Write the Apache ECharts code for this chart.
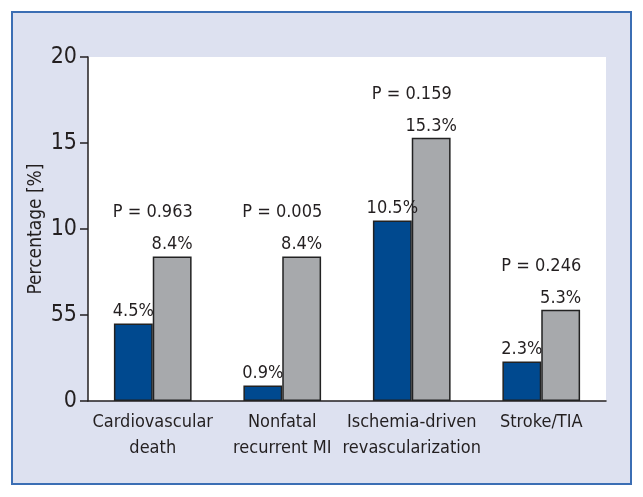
<!DOCTYPE html>
<html>
<head>
<meta charset="utf-8">
<script src="https://cdn.jsdelivr.net/npm/echarts@6/dist/echarts.min.js"></script>
<style>
html,body{margin:0;padding:0;background:#fff;}
#c{width:643px;height:497px;}
</style>
</head>
<body>
<div id="c"></div>
<script>
var categories = ['Cardiovascular\ndeath', 'Nonfatal\nrecurrent MI', 'Ischemia-driven\nrevascularization', 'Stroke/TIA'];
var seriesA = [4.5, 0.9, 10.5, 2.3];
var seriesB = [8.4, 8.4, 15.3, 5.3];
var pLabels = ['P = 0.963', 'P = 0.005', 'P = 0.159', 'P = 0.246'];
var yTickLabels = {0: '0', 5: '55', 10: '10', 15: '15', 20: '20'};

var FONT = "'Liberation Sans Narrow', 'DejaVu Sans Condensed', 'Roboto Condensed', sans-serif";
var TXT = '#231f20';

var chart = echarts.init(document.getElementById('c'));
var pData = categories.map(function (c, i) { return [i, Math.max(seriesA[i], seriesB[i])]; });

chart.setOption({
  animation: false,
  backgroundColor: '#ffffff',
  graphic: [{
    type: 'rect', z: -10, silent: true,
    shape: { x: 12, y: 12, width: 619, height: 472 },
    style: { fill: '#dde1f0', stroke: '#3b6eb4', lineWidth: 2 }
  }],
  grid: { left: 88, right: 37, top: 57, bottom: 96, show: true, backgroundColor: '#ffffff', borderWidth: 0 },
  xAxis: {
    type: 'category',
    data: categories,
    axisLine: { show: true, lineStyle: { color: TXT, width: 1.5 } },
    axisTick: { show: false },
    axisLabel: { color: TXT, fontFamily: FONT, fontSize: 18, lineHeight: 26, margin: 8, interval: 0 }
  },
  yAxis: {
    type: 'value', min: 0, max: 20, interval: 5,
    name: 'Percentage [%]', nameLocation: 'middle', nameGap: 42, nameRotate: 90,
    nameMoveOverlap: false,
    nameTextStyle: { color: TXT, fontFamily: FONT, fontSize: 19 },
    splitLine: { show: false },
    axisLine: { show: true, lineStyle: { color: TXT, width: 1.5 } },
    axisTick: { show: true, length: 8, lineStyle: { color: TXT, width: 1.5 } },
    axisLabel: {
      color: TXT, fontFamily: FONT, fontSize: 23, margin: 11,
      formatter: function (v) { return yTickLabels[v] !== undefined ? yTickLabels[v] : String(v); }
    }
  },
  series: [
    {
      type: 'bar', data: seriesA, barGap: '0%', barCategoryGap: '40%',
      itemStyle: { color: '#00498f', borderColor: '#222', borderWidth: 1.5 },
      label: { show: true, position: 'top', distance: 3, color: TXT, fontFamily: FONT, fontSize: 18,
        formatter: function (p) { return p.value.toFixed(1) + '%'; } }
    },
    {
      type: 'bar', data: seriesB, barGap: '0%', barCategoryGap: '40%',
      itemStyle: { color: '#a7a9ac', borderColor: '#222', borderWidth: 1.5 },
      label: { show: true, position: 'top', distance: 3, color: TXT, fontFamily: FONT, fontSize: 18,
        formatter: function (p) { return p.value.toFixed(1) + '%'; } }
    },
    {
      type: 'custom', data: pData, z: 5,
      renderItem: function (params, api) {
        var idx = api.value(0);
        var pt = api.coord([idx, api.value(1)]);
        return {
          type: 'text',
          style: { text: pLabels[idx], x: pt[0], y: pt[1] - 35, align: 'center', verticalAlign: 'bottom',
            fill: TXT, fontFamily: FONT, fontSize: 18 }
        };
      }
    }
  ]
});
</script>
</body>
</html>
